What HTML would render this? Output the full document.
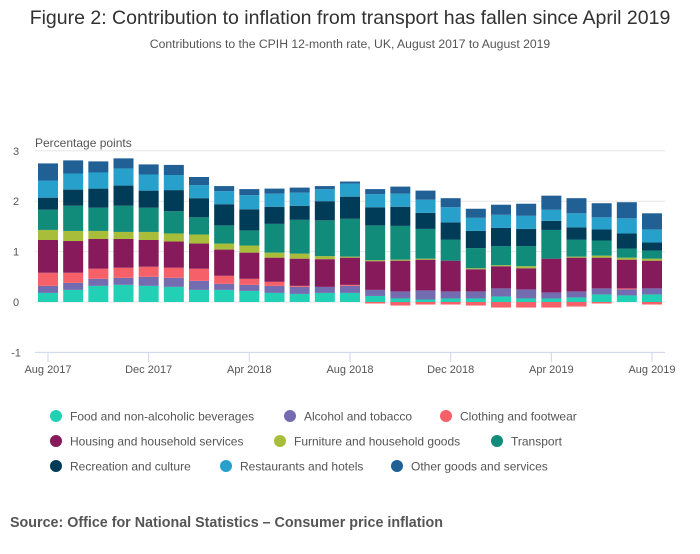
<!DOCTYPE html>
<html><head><meta charset="utf-8"><style>
body{margin:0;background:#fff;font-family:"Liberation Sans",sans-serif;}
svg text{font-family:"Liberation Sans",sans-serif;}
</style></head><body>
<svg id="chart" width="700" height="549" viewBox="0 0 700 549" xmlns="http://www.w3.org/2000/svg">
<text x="350" y="24" text-anchor="middle" font-size="19.5" fill="#323132">Figure 2: Contribution to inflation from transport has fallen since April 2019</text>
<text x="350" y="48" text-anchor="middle" font-size="12.2" fill="#555">Contributions to the CPIH 12-month rate, UK, August 2017 to August 2019</text>
<text x="35" y="147" font-size="12" fill="#555">Percentage points</text>
<g id="grid"></g>
<g id="bars"></g>
<g id="xaxis"></g>
<g id="legend"></g>
<text x="10" y="527" font-size="14.3" font-weight="bold" fill="#555">Source: Office for National Statistics – Consumer price inflation</text>
</svg>
<script>
const months = ["Aug 2017","Sep 2017","Oct 2017","Nov 2017","Dec 2017","Jan 2018","Feb 2018","Mar 2018","Apr 2018","May 2018","Jun 2018","Jul 2018","Aug 2018","Sep 2018","Oct 2018","Nov 2018","Dec 2018","Jan 2019","Feb 2019","Mar 2019","Apr 2019","May 2019","Jun 2019","Jul 2019","Aug 2019"];
const seriesNames = ["Food and non-alcoholic beverages","Alcohol and tobacco","Clothing and footwear","Housing and household services","Furniture and household goods","Transport","Recreation and culture","Restaurants and hotels","Other goods and services"];
const seriesColors = ["#22d0b6","#746cb1","#f66068","#871a5b","#a8bd3a","#118c7b","#003c57","#27a0cc","#206095"];
const food = [.18,.24,.32,.34,.32,.30,.24,.24,.22,.18,.16,.18,.18,.12,.07,.05,.07,.07,.11,.07,.07,.09,.15,.13,.15];
const alcohol = [.14,.14,.14,.14,.18,.18,.18,.12,.12,.14,.14,.12,.14,.12,.14,.18,.14,.14,.16,.18,.12,.12,.12,.12,.12];
const clothing = [.26,.20,.20,.20,.20,.20,.24,.16,.12,.08,.02,0,.02,-.03,-.07,-.05,-.05,-.07,-.11,-.11,-.11,-.09,-.03,.02,-.05];
const housing = [.65,.63,.59,.57,.53,.52,.50,.52,.52,.48,.54,.55,.54,.57,.61,.61,.61,.44,.44,.42,.67,.67,.61,.57,.55];
const furniture = [.20,.20,.16,.14,.16,.16,.18,.12,.14,.10,.10,.06,.02,.02,.02,.02,0,.02,.02,.04,0,.02,.04,.04,.04];
const transport = [.40,.50,.46,.52,.48,.44,.34,.36,.30,.57,.67,.71,.75,.69,.67,.59,.42,.40,.38,.40,.57,.34,.30,.18,.16];
const recreation = [.24,.32,.38,.40,.34,.42,.38,.42,.42,.34,.28,.38,.44,.36,.38,.32,.34,.34,.36,.34,.18,.24,.22,.30,.16];
const restaurants = [.34,.32,.32,.34,.32,.30,.26,.26,.28,.26,.26,.24,.26,.26,.26,.26,.30,.26,.26,.26,.22,.28,.24,.30,.26];
const other = [.34,.26,.22,.20,.20,.20,.16,.10,.12,.10,.10,.06,.04,.10,.14,.18,.18,.18,.20,.24,.28,.30,.28,.32,.32];
const yTicks = [3,2,1,0,-1];
const xTickLabels = ["Aug 2017","Dec 2017","Apr 2018","Aug 2018","Dec 2018","Apr 2019","Aug 2019"];

const NS="http://www.w3.org/2000/svg";
const plotL=35, plotR=665, x0=48, x1=652, bw=20;
function y(v){return 302-v*50.4;}
function x(i){return x0+i*(x1-x0)/(months.length-1);}
function mk(tag,attrs,parent){const e=document.createElementNS(NS,tag);for(const k in attrs)e.setAttribute(k,attrs[k]);parent.appendChild(e);return e;}

const grid=document.getElementById('grid');
yTicks.forEach(t=>{
  const l=mk('line',{x1:plotL,x2:plotR,y1:y(t),y2:y(t),stroke:t===-1?'#ccd6eb':'#e6e6e6','stroke-width':1},grid);
  
  
  const tx=mk('text',{x:16,y:y(t)+4,'text-anchor':'middle','font-size':11,fill:'#555'},grid);
  tx.textContent=String(t);
  
  
});

const series=[food,alcohol,clothing,housing,furniture,transport,recreation,restaurants,other];
const bars=document.getElementById('bars');
months.forEach((m,i)=>{
  let pos=0,neg=0;
  series.forEach((s,k)=>{
    const v=s[i]; if(!v) return;
    let top,bot;
    if(v>=0){bot=pos;top=pos+v;pos=top;}else{top=neg;bot=neg+v;neg=bot;}
    const r=mk('rect',{x:x(i)-bw/2,y:y(top),width:bw,height:y(bot)-y(top),fill:seriesColors[k]},bars);
    
    
  });
});

const xa=document.getElementById('xaxis');
xTickLabels.forEach(lbl=>{
  const i=months.indexOf(lbl);
  const t=mk('line',{x1:x(i),x2:x(i),y1:352,y2:362,stroke:'#ccd6eb'},xa);
  
  
  const tx=mk('text',{x:x(i),y:373,'text-anchor':'middle','font-size':11,fill:'#555'},xa);
  tx.textContent=lbl;
  
  
});

const legPos=[[56,416],[290,416],[446,416],[56,441],[280,441],[497,441],[56,466],[226,466],[397,466]];
const lg=document.getElementById('legend');
seriesNames.forEach((n,k)=>{
  const g=mk('g',{},lg);
  
  
  mk('circle',{cx:legPos[k][0],cy:legPos[k][1],r:6,fill:seriesColors[k]},g);
  const tx=mk('text',{x:legPos[k][0]+14,y:legPos[k][1]+4.5,'font-size':12,fill:'#555'},g);
  tx.textContent=n;
});
</script>
</body></html>
